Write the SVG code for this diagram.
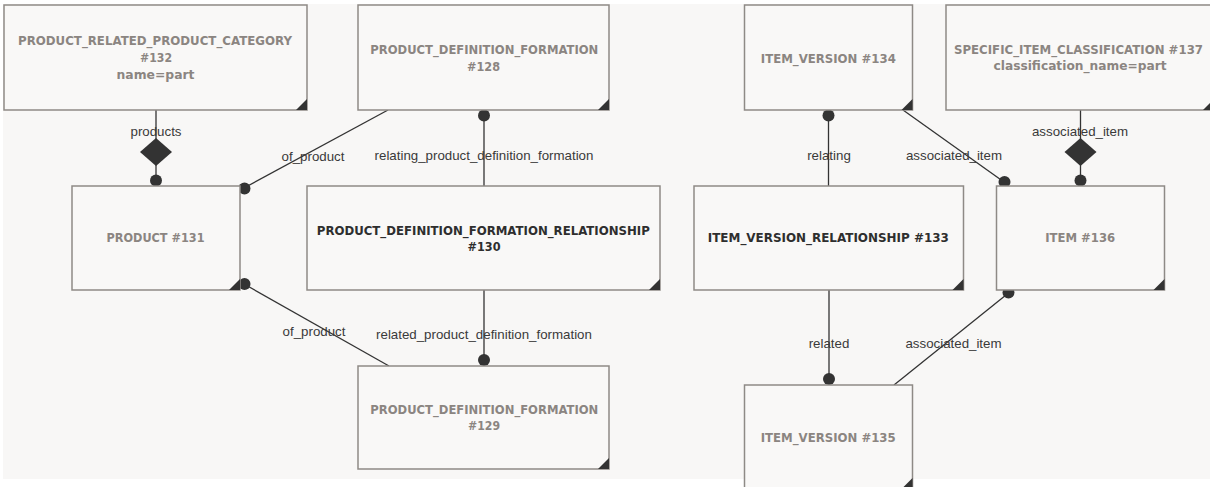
<svg xmlns="http://www.w3.org/2000/svg" width="1210" height="487" viewBox="0 0 1210 487">
<style>
.box{fill:#f9f8f7;stroke:#8e8a86;stroke-width:1.5}
.tri{fill:#333333}
.t{font-family:"DejaVu Sans",Verdana,sans-serif;font-weight:bold;font-size:13px;text-anchor:middle;fill:#8b8581}
.td{fill:#2e2e2e}
.lbl{font-family:"Liberation Sans",Arial,sans-serif;font-size:13.3px;text-anchor:middle;fill:#3a3a3a}
.ln{stroke:#333333;stroke-width:1.3;fill:none}
.dot{fill:#333333}
</style>
<rect x="3" y="4" width="1207" height="475" fill="#f8f7f6"/>
<g id="connectors">
  <line class="ln" x1="156" y1="110" x2="156" y2="186"/>
  <polygon class="dot" points="156,138 172,152 156,166 140,152"/>
  <circle class="dot" cx="156" cy="180.5" r="6"/>
  <text class="lbl" x="156" y="136">products</text>

  <line class="ln" x1="388" y1="110" x2="244" y2="188"/>
  <circle class="dot" cx="244.5" cy="188.5" r="6"/>
  <text class="lbl" x="313" y="161">of_product</text>

  <line class="ln" x1="484" y1="110" x2="484" y2="186"/>
  <circle class="dot" cx="484" cy="115.5" r="6"/>
  <text class="lbl" x="484" y="160">relating_product_definition_formation</text>

  <line class="ln" x1="484" y1="290" x2="484" y2="366"/>
  <circle class="dot" cx="484" cy="360" r="6"/>
  <text class="lbl" x="484" y="339">related_product_definition_formation</text>

  <line class="ln" x1="389" y1="366" x2="244" y2="284"/>
  <circle class="dot" cx="244.5" cy="284" r="6"/>
  <text class="lbl" x="314" y="336">of_product</text>

  <line class="ln" x1="828.5" y1="110" x2="828.5" y2="186"/>
  <circle class="dot" cx="828.5" cy="115.5" r="6"/>
  <text class="lbl" x="829" y="160">relating</text>

  <line class="ln" x1="903" y1="110" x2="1004" y2="182"/>
  <circle class="dot" cx="1004.5" cy="182" r="6"/>
  <text class="lbl" x="954" y="160">associated_item</text>

  <line class="ln" x1="1080.5" y1="110" x2="1080.5" y2="186"/>
  <polygon class="dot" points="1080.5,138 1096.5,152 1080.5,166 1064.5,152"/>
  <circle class="dot" cx="1080.5" cy="180.5" r="6"/>
  <text class="lbl" x="1080" y="136">associated_item</text>

  <line class="ln" x1="829" y1="290" x2="829" y2="385"/>
  <circle class="dot" cx="829" cy="379" r="6"/>
  <text class="lbl" x="829" y="348">related</text>

  <line class="ln" x1="894" y1="385" x2="1008.5" y2="293"/>
  <circle class="dot" cx="1008.5" cy="292.5" r="6"/>
  <text class="lbl" x="953.5" y="348">associated_item</text>
</g>
<g id="n132">
  <rect class="box" x="4" y="5" width="303" height="105"/>
  <polygon class="tri" points="296,110 307,110 307,99"/>
  <text class="t" x="155" y="44.5" textLength="274" lengthAdjust="spacingAndGlyphs">PRODUCT_RELATED_PRODUCT_CATEGORY</text>
  <text class="t" x="156" y="61.5" textLength="32" lengthAdjust="spacingAndGlyphs">#132</text>
  <text class="t" x="155.5" y="78.5" textLength="78" lengthAdjust="spacingAndGlyphs">name=part</text>
</g>
<g id="n128">
  <rect class="box" x="358" y="5" width="251" height="105"/>
  <polygon class="tri" points="598,110 609,110 609,99"/>
  <text class="t" x="484.3" y="53.5" textLength="228" lengthAdjust="spacingAndGlyphs">PRODUCT_DEFINITION_FORMATION</text>
  <text class="t" x="483.5" y="70.5" textLength="33" lengthAdjust="spacingAndGlyphs">#128</text>
</g>
<g id="n131">
  <rect class="box" x="72" y="186" width="168" height="104"/>
  <polygon class="tri" points="229,290 240,290 240,279"/>
  <text class="t" x="155.5" y="241.5" textLength="98" lengthAdjust="spacingAndGlyphs">PRODUCT #131</text>
</g>
<g id="n130">
  <rect class="box" x="307" y="186" width="353" height="104"/>
  <polygon class="tri" points="649,290 660,290 660,279"/>
  <text class="t td" x="483.3" y="235" textLength="333" lengthAdjust="spacingAndGlyphs">PRODUCT_DEFINITION_FORMATION_RELATIONSHIP</text>
  <text class="t td" x="484" y="251" textLength="33" lengthAdjust="spacingAndGlyphs">#130</text>
</g>
<g id="n129">
  <rect class="box" x="358" y="366" width="251" height="103"/>
  <polygon class="tri" points="598,469 609,469 609,458"/>
  <text class="t" x="484.3" y="413.5" textLength="228" lengthAdjust="spacingAndGlyphs">PRODUCT_DEFINITION_FORMATION</text>
  <text class="t" x="484" y="430" textLength="32" lengthAdjust="spacingAndGlyphs">#129</text>
</g>
<g id="n134">
  <rect class="box" x="744.5" y="5" width="168" height="105"/>
  <polygon class="tri" points="901.5,110 912.5,110 912.5,99"/>
  <text class="t" x="828.3" y="62.5" textLength="135" lengthAdjust="spacingAndGlyphs">ITEM_VERSION #134</text>
</g>
<g id="n137">
  <rect class="box" x="946" y="5" width="268" height="105"/>
  <polygon class="tri" points="1203,110 1214,110 1214,99"/>
  <text class="t" x="1078.5" y="53.5" style="font-size:11.5px" textLength="249" lengthAdjust="spacingAndGlyphs">SPECIFIC_ITEM_CLASSIFICATION #137</text>
  <text class="t" x="1080" y="70" textLength="173" lengthAdjust="spacingAndGlyphs">classification_name=part</text>
</g>
<g id="n133">
  <rect class="box" x="694" y="186" width="269.5" height="104"/>
  <polygon class="tri" points="952.5,290 963.5,290 963.5,279"/>
  <text class="t td" x="828.3" y="241.5" textLength="241" lengthAdjust="spacingAndGlyphs">ITEM_VERSION_RELATIONSHIP #133</text>
</g>
<g id="n136">
  <rect class="box" x="996.5" y="186" width="168" height="104"/>
  <polygon class="tri" points="1153.5,290 1164.5,290 1164.5,279"/>
  <text class="t" x="1080.2" y="241.5" textLength="70" lengthAdjust="spacingAndGlyphs">ITEM #136</text>
</g>
<g id="n135">
  <rect class="box" x="744.5" y="385" width="168" height="104"/>
  <polygon class="tri" points="901.5,489 912.5,489 912.5,478"/>
  <text class="t" x="828.2" y="441.5" textLength="135" lengthAdjust="spacingAndGlyphs">ITEM_VERSION #135</text>
</g>
</svg>
